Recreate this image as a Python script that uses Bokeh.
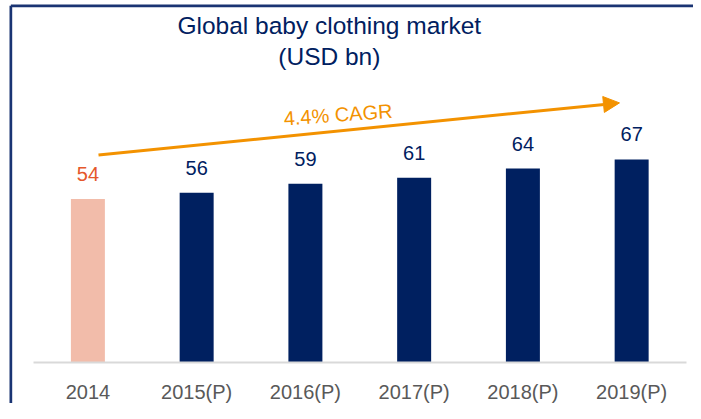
from bokeh.plotting import figure
from bokeh.models import ColumnDataSource, Arrow, NormalHead, Range1d, FixedTicker
from bokeh.core.properties import value
from bokeh.embed import file_html
from bokeh.resources import INLINE

# ---- data ----
years = ["2014", "2015(P)", "2016(P)", "2017(P)", "2018(P)", "2019(P)"]
market_usd_bn = [54, 56, 59, 61, 64, 67]
bar_colors = ["#F2BCAA", "#002060", "#002060", "#002060", "#002060", "#002060"]
label_colors = ["#E5582B", "#002060", "#002060", "#002060", "#002060", "#002060"]
title_lines = ["Global baby clothing market", "(USD bn)"]
cagr_text = ["4.4% CAGR"]

NAVY = "#002060"
FRAME_NAVY = "#1A3473"
ORANGE = "#F39200"
FONT = value("Liberation Sans")

W, H = 693, 403
PX_PER_CAT = 108.75
PX_PER_UNIT = 3.03
X0 = -87.4 / PX_PER_CAT
X1 = X0 + W / PX_PER_CAT
Y1 = 362 / PX_PER_UNIT
Y0 = -(H - 362) / PX_PER_UNIT

positions = list(range(len(years)))

src = ColumnDataSource(dict(
    x=positions,
    val=market_usd_bn,
    label=[str(v) for v in market_usd_bn],
    bcolor=bar_colors,
    lcolor=label_colors,
))

p = figure(
    x_range=Range1d(X0, X1),
    y_range=Range1d(Y0, Y1),
    width=W, height=H,
    output_backend="svg", toolbar_location=None,
    y_axis_location=None,
    min_border=0, min_border_left=0, min_border_right=0,
    min_border_top=0, min_border_bottom=0,
    outline_line_color=None,
    background_fill_color="white", border_fill_color="white",
)
p.xgrid.visible = False
p.ygrid.visible = False

ax = p.xaxis[0]
ax.fixed_location = 0
ax.bounds = (-0.5, len(years) - 0.5)
ax.ticker = FixedTicker(ticks=positions)
ax.major_label_overrides = {i: y for i, y in zip(positions, years)}
ax.axis_line_color = "#D9D9D9"
ax.axis_line_width = 2
ax.major_tick_line_color = None
ax.minor_tick_line_color = None
ax.major_label_text_font = "Liberation Sans"
ax.major_label_text_font_size = "20px"
ax.major_label_text_color = "#595959"
ax.major_label_standoff = 12

# outer frame lines (left and top)
xl = X0 + 10.35 / PX_PER_CAT
yt = Y1 - 5.35 / PX_PER_UNIT
p.segment(x0=[xl, xl], y0=[Y0, yt], x1=[xl, X1], y1=[yt, yt],
          line_color=FRAME_NAVY, line_width=2.7)

p.vbar(x="x", top="val", width=0.3126, fill_color="bcolor", line_color=None, source=src)

p.text(x="x", y="val", text="label", text_color="lcolor",
       text_align="center", text_baseline="alphabetic", y_offset=-25,
       text_font=FONT, text_font_size="20px", source=src)

# title (two centred lines)
p.text(x=[2.22, 2.22], y=[111.2, 101.0], text=title_lines, text_color=NAVY,
       text_align="center", text_baseline="alphabetic",
       text_font=FONT, text_font_size="24.5px")

# CAGR arrow
p.add_layout(Arrow(x_start=0.0975, y_start=68.48, x_end=4.888, y_end=85.68,
                   line_color=ORANGE, line_width=3,
                   end=NormalHead(size=16, fill_color=ORANGE, line_color=ORANGE, line_width=1)))
p.text(x=[2.30], y=[81.8], text=cagr_text, angle=0.07, text_color=ORANGE,
       text_align="center", text_baseline="alphabetic",
       text_font=FONT, text_font_size="20px")

open("out.html", "w").write(file_html(p, INLINE))
